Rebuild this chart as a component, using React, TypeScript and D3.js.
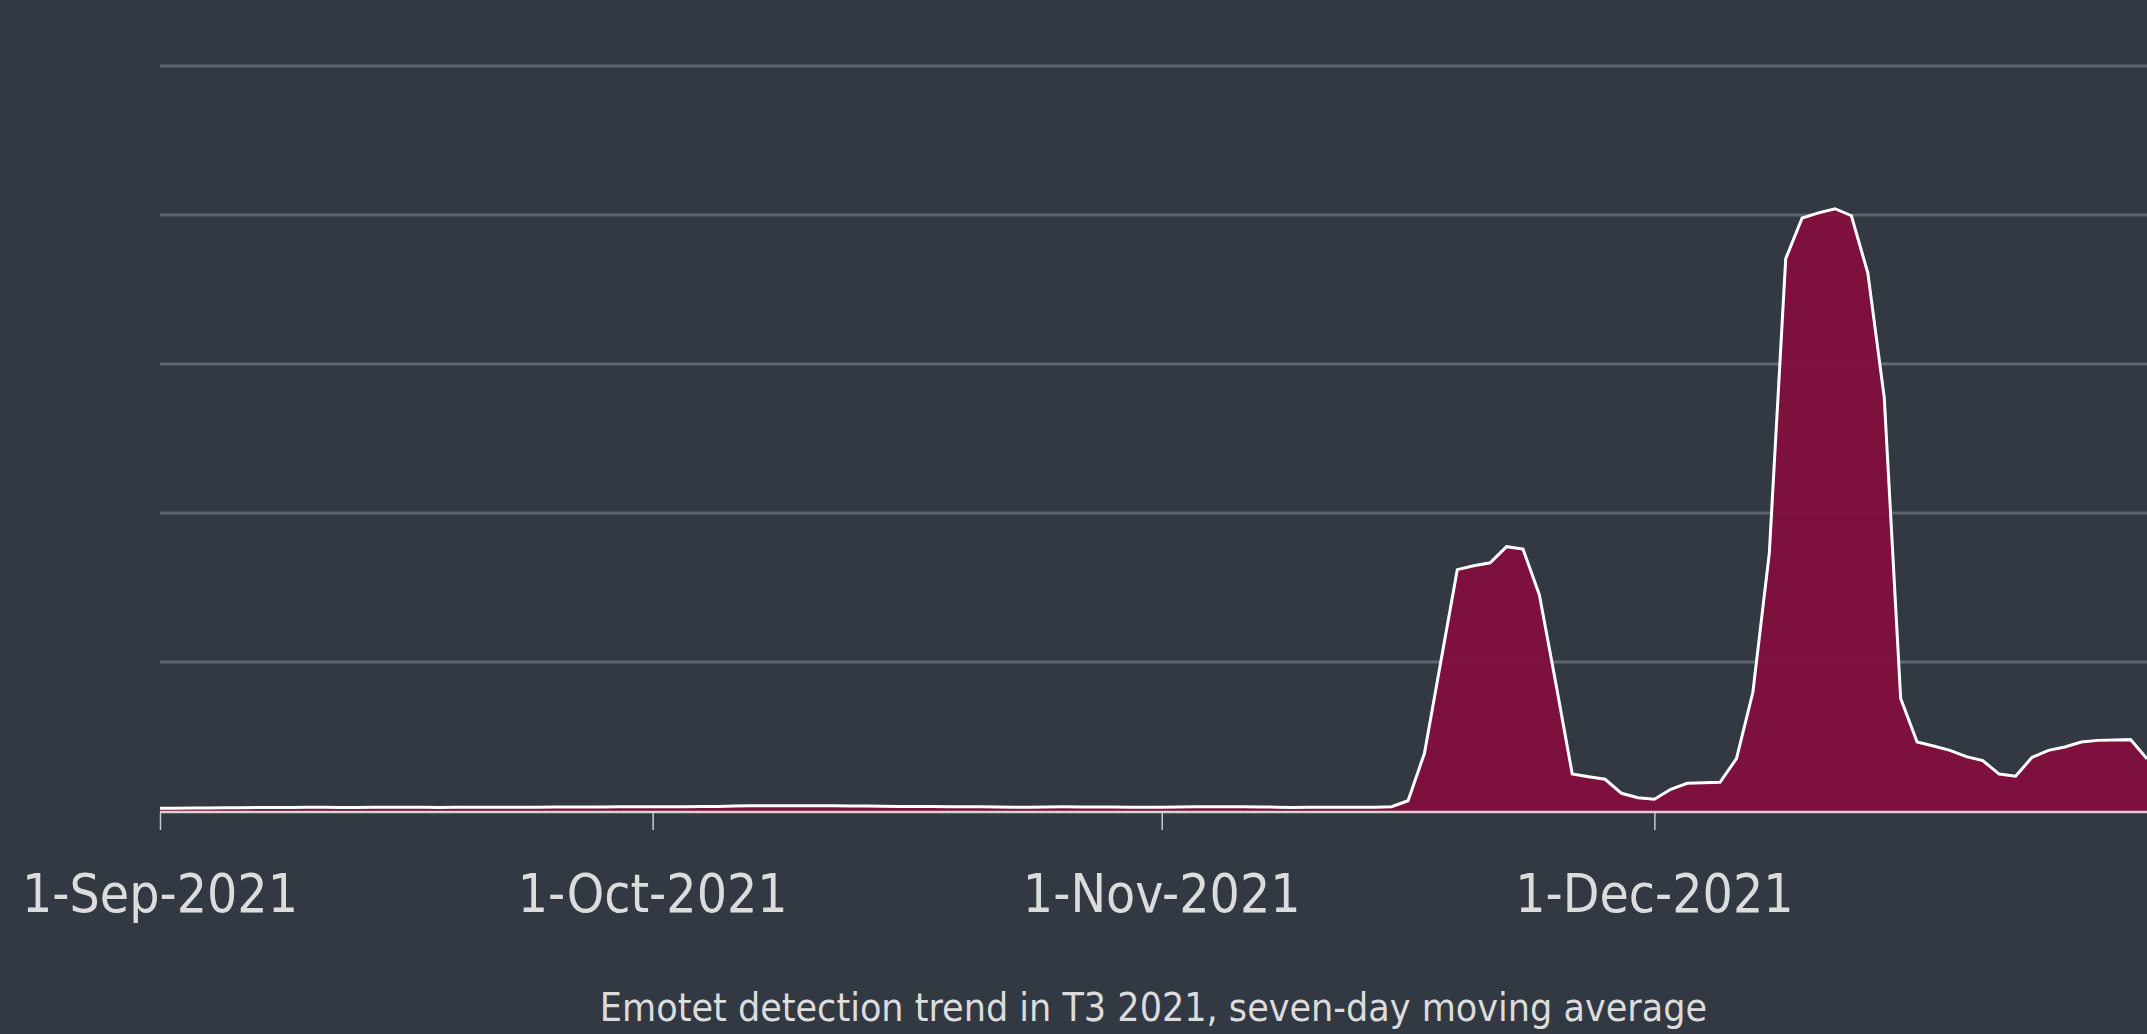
import React, { useEffect, useRef } from 'react';
import * as d3 from 'd3';

// seven-day moving average, one value per day from 1-Sep-2021 to 31-Dec-2021
const startDate = new Date(2021, 8, 1);
const endDate = new Date(2021, 11, 31);

const sepValues = [1.8, 1.9, 2.0, 2.0, 2.1, 2.2, 2.3, 2.4, 2.4, 2.5, 2.5, 2.4, 2.4, 2.5, 2.6,
	2.5, 2.5, 2.4, 2.5, 2.6, 2.6, 2.6, 2.5, 2.6, 2.7, 2.7, 2.7, 2.7, 2.8, 2.8];
const octValues = [2.8, 2.8, 2.9, 3.0, 3.1, 3.3, 3.5, 3.6, 3.6, 3.6, 3.5, 3.5, 3.4, 3.3, 3.2,
	3.1, 3.0, 3.0, 2.9, 2.9, 2.8, 2.7, 2.6, 2.6, 2.7, 2.8, 2.7, 2.7, 2.7, 2.6, 2.6];
const novValues = [2.6, 2.7, 2.8, 2.8, 2.8, 2.8, 2.7, 2.6, 2.4, 2.5, 2.6, 2.6, 2.6, 2.5, 2.9,
	6.9, 38.7, 100.5, 162, 164.6, 166.6, 177.4, 175.8, 145, 85.7, 24.8, 23, 21.3, 11.9, 8.9];
const decValues = [7.9, 14.6, 18.6, 19, 19.3, 35.2, 79.7, 173, 370.7, 398, 401.4, 404.2, 399.5,
	361, 277.4, 75.5, 46.3, 43.6, 40.7, 36.5, 33.8, 24.8, 23.4, 36, 40.7, 43, 46.3, 47.4, 47.7,
	47.9, 35.1];

const gridValues = [100, 200, 300, 400, 500];
const tickDates = [new Date(2021, 8, 1), new Date(2021, 9, 1), new Date(2021, 10, 1), new Date(2021, 11, 1)];
const title = 'Emotet detection trend in T3 2021, seven-day moving average';

const WIDTH = 2147;
const HEIGHT = 1034;
const BG = '#323943';
const FONT = '"Liberation Sans Narrow", "DejaVu Sans Condensed", "Open Sans", sans-serif';

export default function App () {
	const node = useRef<SVGSVGElement | null>(null);

	useEffect(() => {
		document.body.style.margin = '0';
		document.body.style.background = BG;

		const values = [...sepValues, ...octValues, ...novValues, ...decValues];
		const data = values.map((v, i) => ({ date: d3.timeDay.offset(startDate, i), value: v }));

		const margin = { top: 66, right: 0, bottom: 223, left: 160 };
		const x = d3.scaleTime().domain([startDate, endDate]).range([margin.left, WIDTH - margin.right]);
		const y = d3.scaleLinear().domain([0, 500]).range([HEIGHT - margin.bottom, margin.top]);

		const svg = d3.select(node.current);
		svg.selectAll('*').remove();

		svg.append('rect').attr('width', WIDTH).attr('height', HEIGHT).attr('fill', BG);

		// horizontal gridlines
		svg.append('g').selectAll('line')
			.data(gridValues)
			.enter().append('line')
			.attr('x1', margin.left).attr('x2', WIDTH)
			.attr('y1', d => y(d)).attr('y2', d => y(d))
			.attr('stroke', '#5f6670')
			.attr('stroke-width', 3);

		const area = d3.area<any>()
			.x(d => x(d.date))
			.y0(y(0))
			.y1(d => y(d.value));

		const line = d3.line<any>()
			.x(d => x(d.date))
			.y(d => y(d.value));

		svg.append('path')
			.datum(data)
			.attr('d', area)
			.attr('fill', '#810f3e')
			.attr('fill-opacity', 0.96);

		svg.append('path')
			.datum(data)
			.attr('d', line)
			.attr('fill', 'none')
			.attr('stroke', '#ffffff')
			.attr('stroke-width', 3)
			.attr('stroke-linejoin', 'miter');

		// x axis
		const axis = svg.append('g').attr('transform', `translate(0,${y(0) + 1})`);
		axis.append('line')
			.attr('x1', margin.left).attr('x2', WIDTH)
			.attr('stroke', '#d4d4d4').attr('stroke-width', 2.5);

		const ticks = axis.selectAll('.tick')
			.data(tickDates)
			.enter().append('g')
			.attr('class', 'tick')
			.attr('transform', d => `translate(${x(d)},0)`);

		ticks.append('line')
			.attr('x1', 0.5).attr('x2', 0.5)
			.attr('y1', 1).attr('y2', 18)
			.attr('stroke', '#c8c8c8').attr('stroke-width', 1.5);

		const fmt = d3.timeFormat('%-d-%b-%Y');
		ticks.append('text')
			.attr('y', 100)
			.attr('text-anchor', 'middle')
			.attr('fill', '#dcdcdc')
			.style('font-family', FONT)
			.style('font-size', '53px')
			.text(d => fmt(d));

		svg.append('text')
			.attr('x', (margin.left + WIDTH) / 2)
			.attr('y', 1021)
			.attr('text-anchor', 'middle')
			.attr('fill', '#dcdcdc')
			.style('font-family', FONT)
			.style('font-size', '39px')
			.text(title);
	}, []);

	return (
		<svg ref={node} width={WIDTH} height={HEIGHT} style={{ display: 'block' }}>
		</svg>
	);
}
